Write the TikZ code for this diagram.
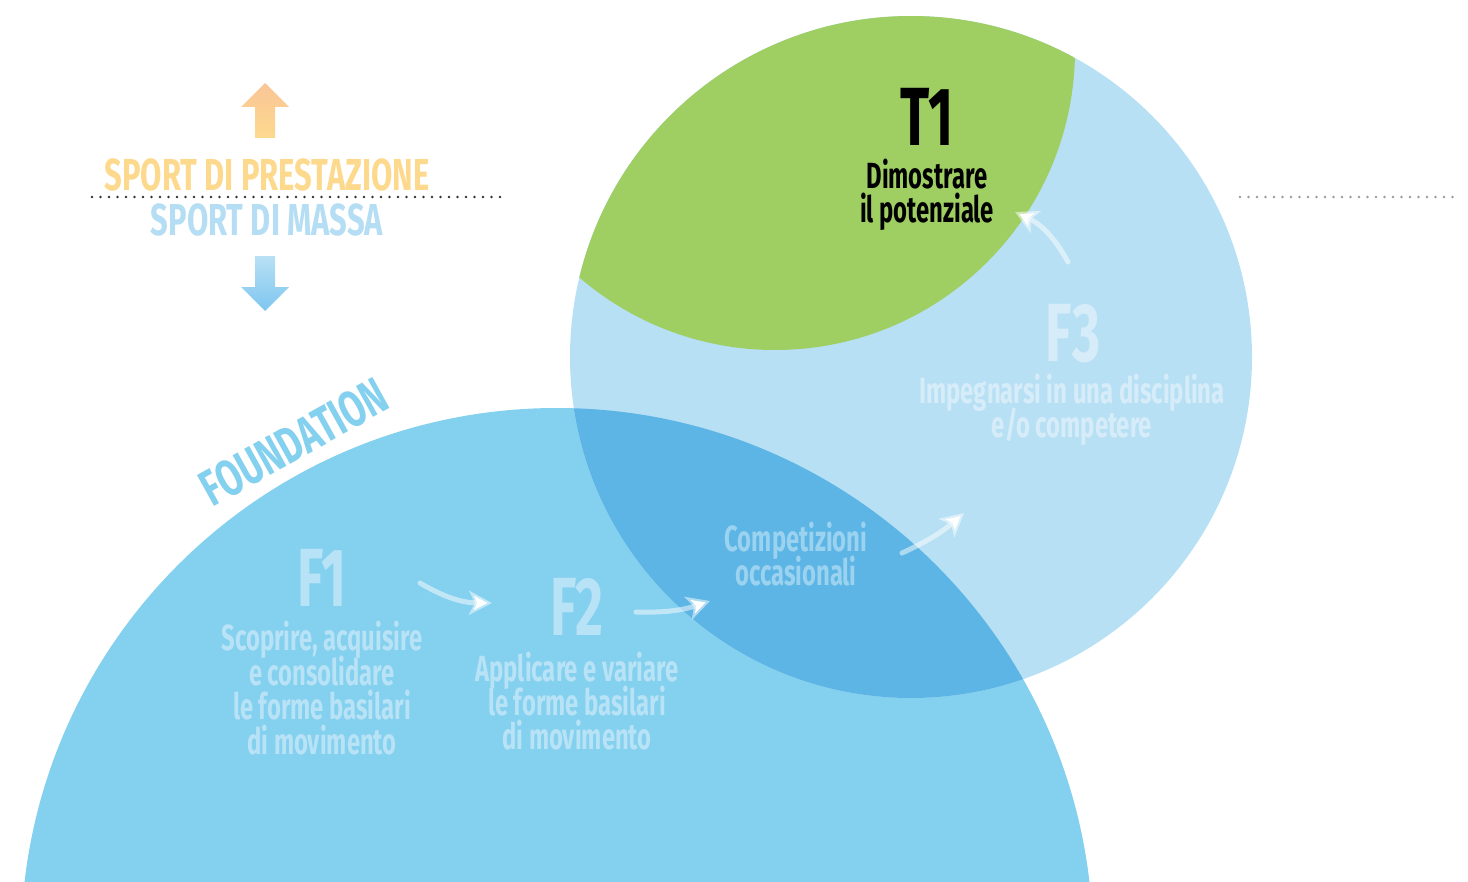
\documentclass[tikz,border=0pt]{standalone}
\usepackage{fontspec}
\setmainfont{Fira Sans}[FakeStretch=0.655]
\newfontfamily\capsfont{Fira Sans}[FakeStretch=0.69]
\usepackage{xcolor}
\usetikzlibrary{arrows.meta}
\definecolor{foundblue}{HTML}{84D0EF}
\definecolor{paleblue}{HTML}{B8E0F4}
\definecolor{deepblue}{HTML}{5CB5E4}
\definecolor{tgreen}{HTML}{9FCE63}
\definecolor{prestorange}{HTML}{FDD98E}
\definecolor{arrowsalmon}{HTML}{F9C596}
\definecolor{massblue}{HTML}{B5DEF4}
\definecolor{ftext}{HTML}{B8E2F5}
\definecolor{fthreetext}{HTML}{D6EDF9}
\definecolor{comptext}{HTML}{9AD2F0}
\def\foundcircle{(557,-944) circle (536)}
\def\fthreecircle{(911,-357) circle (341)}
\def\tonecircle{(775,-50) circle (300)}
\newcommand\tightlines{\lineskiplimit=-20pt\relax}

\begin{document}
\begin{tikzpicture}[x=0.02cm,y=0.02cm,
    bodytext/.style={font=\fontsize{20.7}{19.6}\selectfont\bfseries\tightlines,align=center,inner sep=0pt},
    phase/.style={font=\fontsize{47}{47}\selectfont\bfseries,inner sep=0pt},
    sidetext/.style={font=\capsfont\fontsize{25.5}{25.5}\selectfont\bfseries,inner sep=0pt},
    flow/.style={draw=white,draw opacity=0.5,line width=0.1cm,line cap=round,
      -{Stealth[length=0.46cm,width=0.48cm,inset=0.12cm]}}]
    \useasboundingbox (0,0) rectangle (1468,-882);
      \begin{scope}
    \clip (0,0) rectangle (1468,-882);
    \fill[foundblue] \foundcircle;
    \fill[paleblue] \fthreecircle;
      \end{scope}
      \begin{scope}
    \clip \foundcircle;
    \fill[deepblue] \fthreecircle;
      \end{scope}
      \begin{scope}
    \clip \fthreecircle;
    \fill[tgreen] \tonecircle;
      \end{scope}
    % levels
    \shade[top color=arrowsalmon,bottom color=prestorange]
      (265,-83) -- (289,-107) -- (275,-107) -- (275,-138) -- (255,-138)
      -- (255,-107) -- (241,-107) -- cycle;
    \shade[top color=paleblue,bottom color=foundblue!95!blue]
      (255,-256) -- (275,-256) -- (275,-287) -- (289,-287) -- (265,-311)
      -- (241,-287) -- (255,-287) -- cycle;
    \node[sidetext,text=prestorange] (prest) at (267,-175) {SPORT DI PRESTAZIONE};
    \node[sidetext,text=massblue] (massa) at (267,-220) {SPORT DI MASSA};
    \coordinate (dotLa) at (92,-197);
    \coordinate (dotLb) at (508,-197);
    \coordinate (dotRa) at (1240,-197);
    \coordinate (dotRb) at (1455,-197);
    \draw[black!80,line width=1.6pt,line cap=round,dash pattern=on 0pt off 0.17cm] (dotLa) -- (dotLb);
    \draw[black!40,line width=1.5pt,line cap=round,dash pattern=on 0pt off 0.17cm] (dotRa) -- (dotRb);
    \node[sidetext,text=foundblue,rotate=29,font=\capsfont\fontsize{29}{29}\selectfont\bfseries] (found) at (294,-442) {FOUNDATION};
    % phases
    \node[phase,text=ftext] (f1) at (322,-578) {F1};
    \node[bodytext,text=ftext] (f1txt) at (322,-688) {Scoprire, acquisire\\e consolidare\\le forme basilari\\di movimento};
    \node[phase,text=ftext] (f2) at (577,-607) {F2};
    \node[bodytext,text=ftext] (f2txt) at (577,-701) {Applicare e variare\\le forme basilari\\di movimento};
    \node[bodytext,text=comptext] (comp) at (796,-554) {Competizioni\\occasionali};
    \node[phase,text=fthreetext] (f3) at (1073,-334) {F3};
    \node[bodytext,text=fthreetext] (f3txt) at (1072,-410) {Impegnarsi in una disciplina\\e/o competere};
    \node[phase,text=black] (t1) at (927,-117) {T1};
    \node[bodytext,text=black] (t1txt) at (927,-195) {Dimostrare\\il potenziale};
    % transitions
    \coordinate (a1s) at (420,-583);
    \coordinate (a1e) at (492,-603);
    \coordinate (a2s) at (636,-612);
    \coordinate (a2e) at (710,-601);
    \coordinate (a3s) at (902,-553);
    \coordinate (a3e) at (964,-513);
    \coordinate (a4s) at (1068,-262);
    \coordinate (a4e) at (1015,-212);
    \draw[flow] (a1s) to[bend right=15] (a1e);
    \draw[flow] (a2s) to[bend right=10] (a2e);
    \draw[flow] (a3s) to[bend right=8] (a3e);
    \draw[flow] (a4s) to[bend right=18] (a4e);
    \end{tikzpicture}
\end{document}
